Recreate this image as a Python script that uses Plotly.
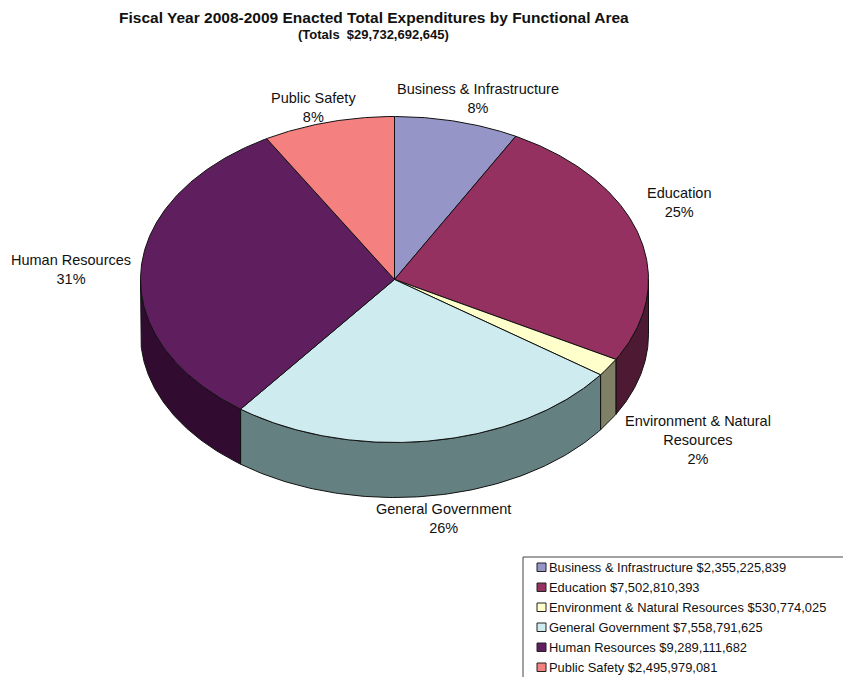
import numpy as np
import plotly.graph_objects as go

categories = ["Business & Infrastructure", "Education", "Environment & Natural Resources",
              "General Government", "Human Resources", "Public Safety"]
values = [2355225839, 7502810393, 530774025, 7558791625, 9289111682, 2495979081]
percent_labels = ["8%", "25%", "2%", "26%", "31%", "8%"]
slice_labels = ["Business & Infrastructure<br>8%", "Education<br>25%",
                "Environment & Natural<br>Resources<br>2%", "General Government<br>26%",
                "Human Resources<br>31%", "Public Safety<br>8%"]
label_x = [478, 679, 698, 443, 71, 313]
label_y = [98.5, 202.5, 439.5, 518.5, 269, 107]
top_colors = ["#9595C8", "#953160", "#FFFFCC", "#CEECF0", "#5F1F5F", "#F58080"]
side_colors = ["#4A4A64", "#4D1933", "#808066", "#648080", "#310B30", "#7A4040"]
title_text = "Fiscal Year 2008-2009 Enacted Total Expenditures by Functional Area"
subtitle_text = "(Totals  $29,732,692,645)"

CX, CY, RX, RY, DEPTH = 394.5, 279.5, 254, 163, 55
FONT = "Liberation Sans, Arial, sans-serif"
EDGE = "#111111"


def ell(theta):
    return CX + RX * np.sin(theta), CY - RY * np.cos(theta)


fracs = np.array(values, dtype=float) / sum(values)
edges = np.concatenate([[0], np.cumsum(fracs)]) * 2 * np.pi

fig = go.Figure()

# Extruded rim: only the part of each slice facing the viewer
for i in range(len(values)):
    a = max(edges[i], np.pi / 2)
    b = min(edges[i + 1], 3 * np.pi / 2)
    if b <= a:
        continue
    t = np.linspace(a, b, 120)
    x, y = ell(t)
    fig.add_trace(go.Scatter(
        x=np.concatenate([x, x[::-1], x[:1]]),
        y=np.concatenate([y, y[::-1] + DEPTH, y[:1]]),
        mode="lines", fill="toself", fillcolor=side_colors[i],
        line=dict(color=EDGE, width=1), hoverinfo="skip", showlegend=False))

# Top face
for i, name in enumerate(categories):
    t = np.linspace(edges[i], edges[i + 1], 180)
    x, y = ell(t)
    fig.add_trace(go.Scatter(
        x=np.concatenate([[CX], x, [CX]]),
        y=np.concatenate([[CY], y, [CY]]),
        mode="lines", fill="toself", fillcolor=top_colors[i],
        line=dict(color=EDGE, width=1), name=name,
        text=f"{name} ${values[i]:,} ({percent_labels[i]})", hoverinfo="text",
        showlegend=False))

ann = []
ann.append(dict(x=374, y=17, text=f"<b>{title_text}</b>", font=dict(size=15.5, family=FONT)))
ann.append(dict(x=373.5, y=34, text=f"<b>{subtitle_text}</b>", font=dict(size=13, family=FONT)))
for tx, lx, ly in zip(slice_labels, label_x, label_y):
    ann.append(dict(x=lx, y=ly, text=tx, font=dict(size=14.5, family=FONT)))

# Legend panel, cut off by the bottom and right of the page
LEG_X, LEG_Y0, LEG_STEP = 537, 567, 20.0
fig.add_shape(type="rect", x0=523, x1=860, y0=557, y1=700, line=dict(color="#444444", width=1),
              fillcolor="white", layer="below")
for i, name in enumerate(categories):
    yy = LEG_Y0 + i * LEG_STEP
    fig.add_shape(type="rect", x0=LEG_X, x1=LEG_X + 9, y0=yy - 4, y1=yy + 4.5,
                  fillcolor=top_colors[i], line=dict(color="#222222", width=1))
    ann.append(dict(x=LEG_X + 10, y=yy, xanchor="left", text=f"{name} ${values[i]:,}",
                    font=dict(size=12.9, family=FONT)))

for a in ann:
    a.update(xref="x", yref="y", showarrow=False, font={**a["font"], "color": "#111111"})
    a.setdefault("xanchor", "center")
    a["yanchor"] = "middle"

fig.update_layout(
    width=843, height=677, margin=dict(l=0, r=0, t=0, b=0),
    paper_bgcolor="white", plot_bgcolor="white", showlegend=False, annotations=ann,
    xaxis=dict(range=[0, 843], visible=False, fixedrange=True),
    yaxis=dict(range=[677, 0], visible=False, fixedrange=True))

fig.write_html("out.html", config=dict(displayModeBar=False),
               post_script="document.body.style.margin='0';document.body.style.overflow='hidden';")
